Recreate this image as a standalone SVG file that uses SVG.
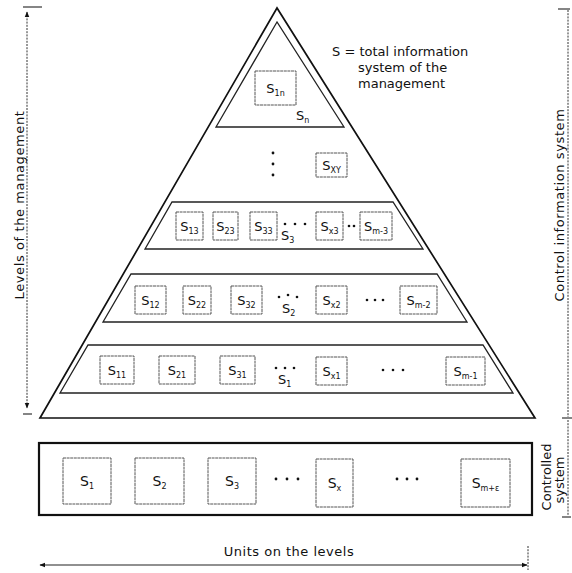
<svg xmlns="http://www.w3.org/2000/svg" width="572" height="573" viewBox="0 0 572 573">
<defs>
<marker id="ah" viewBox="0 0 10 10" refX="9" refY="5" markerWidth="6" markerHeight="6" orient="auto-start-reverse" markerUnits="userSpaceOnUse">
<path d="M0,1 L10,5 L0,9 z" fill="#111"/>
</marker>
</defs>
<style>
text{font-family:"DejaVu Sans","Liberation Sans",sans-serif;fill:#111}
.lbl{font-size:13px}
.big{font-size:14px}
.sub{font-size:8px}
.box{fill:none;stroke:#555;stroke-width:1;stroke-dasharray:3 0.6}
.lvl{fill:none;stroke:#222;stroke-width:1.3}
.tri{fill:none;stroke:#111;stroke-width:1.7}
.dot{fill:#111}
.dim{fill:none;stroke:#333;stroke-width:1;stroke-dasharray:2 1.2}
.solid{fill:none;stroke:#222;stroke-width:1.1}
.cap{font-size:13px;letter-spacing:0.6px}
</style>
<rect width="572" height="573" fill="#fff"/>

<g id="pyramid">
<path class="tri" d="M277,8 L40,418 L535,418 Z"/>
</g>

<g id="level-n">
<path class="lvl" d="M277,22 L216,127 L344,127 Z"/>
<rect class="box" x="255" y="71" width="41" height="34"/>
<text class="lbl" x="275.5" y="93" text-anchor="middle">S<tspan class="sub" dy="3">1n</tspan></text>
<text class="lbl" x="296" y="120">S<tspan class="sub" dy="3">n</tspan></text>
</g>

<g id="level-xy">
<circle class="dot" cx="273" cy="153" r="1.4"/>
<circle class="dot" cx="273" cy="164" r="1.4"/>
<circle class="dot" cx="273" cy="175" r="1.4"/>
<rect class="box" x="316" y="153" width="31" height="24"/>
<text class="lbl" x="331.5" y="170" text-anchor="middle">S<tspan class="sub" dy="3">XY</tspan></text>
</g>

<g id="legend">
<text class="lbl" x="332" y="56">S = total information</text>
<text class="lbl" x="358" y="72">system of the</text>
<text class="lbl" x="358" y="88">management</text>
</g>

<g id="level-3">
<path class="lvl" d="M172,202 L393,202 L423,249 L145,249 Z"/>
<rect class="box" x="176" y="212" width="27" height="28"/>
<text class="lbl" x="189.5" y="231" text-anchor="middle">S<tspan class="sub" dy="3">13</tspan></text>
<rect class="box" x="213" y="212" width="25" height="28"/>
<text class="lbl" x="225.5" y="231" text-anchor="middle">S<tspan class="sub" dy="3">23</tspan></text>
<rect class="box" x="250" y="212" width="27" height="28"/>
<text class="lbl" x="263.5" y="231" text-anchor="middle">S<tspan class="sub" dy="3">33</tspan></text>
<circle class="dot" cx="285" cy="224" r="1.3"/>
<circle class="dot" cx="295" cy="224" r="1.3"/>
<circle class="dot" cx="305" cy="224" r="1.3"/>
<text class="lbl" x="281" y="240">S<tspan class="sub" dy="3">3</tspan></text>
<rect class="box" x="316" y="212" width="27" height="28"/>
<text class="lbl" x="329.5" y="231" text-anchor="middle">S<tspan class="sub" dy="3">x3</tspan></text>
<circle class="dot" cx="349" cy="226" r="1.3"/>
<circle class="dot" cx="354" cy="226" r="1.3"/>
<rect class="box" x="360" y="212" width="32" height="28"/>
<text class="lbl" x="376" y="231" text-anchor="middle">S<tspan class="sub" dy="3">m-3</tspan></text>
</g>

<g id="level-2">
<path class="lvl" d="M131,274 L437,274 L467,322 L103,322 Z"/>
<rect class="box" x="135" y="286" width="31" height="28"/>
<text class="lbl" x="150.5" y="305" text-anchor="middle">S<tspan class="sub" dy="3">12</tspan></text>
<rect class="box" x="183" y="286" width="28" height="28"/>
<text class="lbl" x="197" y="305" text-anchor="middle">S<tspan class="sub" dy="3">22</tspan></text>
<rect class="box" x="231" y="286" width="31" height="28"/>
<text class="lbl" x="246.5" y="305" text-anchor="middle">S<tspan class="sub" dy="3">32</tspan></text>
<circle class="dot" cx="279" cy="297" r="1.3"/>
<circle class="dot" cx="288" cy="295" r="1.3"/>
<circle class="dot" cx="297" cy="297" r="1.3"/>
<text class="lbl" x="282" y="313">S<tspan class="sub" dy="3">2</tspan></text>
<rect class="box" x="316" y="286" width="31" height="28"/>
<text class="lbl" x="331.5" y="305" text-anchor="middle">S<tspan class="sub" dy="3">x2</tspan></text>
<circle class="dot" cx="367" cy="300" r="1.3"/>
<circle class="dot" cx="375" cy="300" r="1.3"/>
<circle class="dot" cx="383" cy="300" r="1.3"/>
<rect class="box" x="400" y="286" width="37" height="28"/>
<text class="lbl" x="418.5" y="305" text-anchor="middle">S<tspan class="sub" dy="3">m-2</tspan></text>
</g>

<g id="level-1">
<path class="lvl" d="M88,345 L483,345 L513,393 L60,393 Z"/>
<rect class="box" x="100" y="356" width="34" height="28"/>
<text class="lbl" x="117" y="375" text-anchor="middle">S<tspan class="sub" dy="3">11</tspan></text>
<rect class="box" x="159" y="356" width="36" height="28"/>
<text class="lbl" x="177" y="375" text-anchor="middle">S<tspan class="sub" dy="3">21</tspan></text>
<rect class="box" x="220" y="356" width="35" height="28"/>
<text class="lbl" x="237.5" y="375" text-anchor="middle">S<tspan class="sub" dy="3">31</tspan></text>
<circle class="dot" cx="276" cy="368" r="1.3"/>
<circle class="dot" cx="285" cy="368" r="1.3"/>
<circle class="dot" cx="294" cy="368" r="1.3"/>
<text class="lbl" x="278" y="384">S<tspan class="sub" dy="3">1</tspan></text>
<rect class="box" x="316" y="357" width="31" height="28"/>
<text class="lbl" x="331.5" y="376" text-anchor="middle">S<tspan class="sub" dy="3">x1</tspan></text>
<circle class="dot" cx="383" cy="370" r="1.3"/>
<circle class="dot" cx="393" cy="370" r="1.3"/>
<circle class="dot" cx="403" cy="370" r="1.3"/>
<rect class="box" x="446" y="357" width="39" height="28"/>
<text class="lbl" x="465.5" y="376" text-anchor="middle">S<tspan class="sub" dy="3">m-1</tspan></text>
</g>

<g id="controlled-system">
<rect x="39" y="443" width="493" height="72" fill="none" stroke="#111" stroke-width="2.2"/>
<rect class="box" x="63" y="458" width="48" height="46"/>
<text class="big" x="87" y="486" text-anchor="middle">S<tspan class="sub" dy="3">1</tspan></text>
<rect class="box" x="135" y="458" width="49" height="46"/>
<text class="big" x="159.5" y="486" text-anchor="middle">S<tspan class="sub" dy="3">2</tspan></text>
<rect class="box" x="208" y="458" width="48" height="46"/>
<text class="big" x="232" y="486" text-anchor="middle">S<tspan class="sub" dy="3">3</tspan></text>
<circle class="dot" cx="276" cy="479" r="1.4"/>
<circle class="dot" cx="287" cy="479" r="1.4"/>
<circle class="dot" cx="298" cy="479" r="1.4"/>
<rect class="box" x="316" y="459" width="37" height="48"/>
<text class="big" x="334.5" y="488" text-anchor="middle">S<tspan class="sub" dy="3">x</tspan></text>
<circle class="dot" cx="397" cy="479" r="1.4"/>
<circle class="dot" cx="407" cy="479" r="1.4"/>
<circle class="dot" cx="417" cy="479" r="1.4"/>
<rect class="box" x="461" y="459" width="49" height="48"/>
<text class="big" x="485.5" y="488" text-anchor="middle">S<tspan class="sub" dy="3">m+ε</tspan></text>
</g>

<g id="connectors">
<line class="solid" x1="23" y1="7" x2="42" y2="7"/>
<line class="dim" x1="27" y1="12" x2="27" y2="408" marker-start="url(#ah)" marker-end="url(#ah)"/>
<line class="solid" x1="23" y1="414" x2="32" y2="414"/>
<line class="solid" x1="558" y1="9" x2="570" y2="9"/>
<line class="dim" x1="568" y1="10" x2="568" y2="417"/>
<line class="solid" x1="562" y1="418" x2="572" y2="418"/>
<line class="dim" x1="568" y1="420" x2="568" y2="516"/>
<line class="solid" x1="562" y1="517" x2="571" y2="517"/>
<line class="solid" x1="40" y1="565" x2="527" y2="565" marker-start="url(#ah)" marker-end="url(#ah)"/>
<line class="dim" x1="528" y1="546" x2="528" y2="570"/>
</g>

<g id="axis-labels">
<text class="cap" transform="translate(24,205) rotate(-90)" text-anchor="middle">Levels of the management</text>
<text class="cap" transform="translate(564,205) rotate(-90)" text-anchor="middle">Control information system</text>
<text class="lbl" transform="translate(551,477) rotate(-90)" text-anchor="middle">Controlled</text>
<text class="lbl" transform="translate(564,480) rotate(-90)" text-anchor="middle">system</text>
<text class="lbl" x="289" y="556" text-anchor="middle" letter-spacing="0.5">Units on the levels</text>
</g>
</svg>
